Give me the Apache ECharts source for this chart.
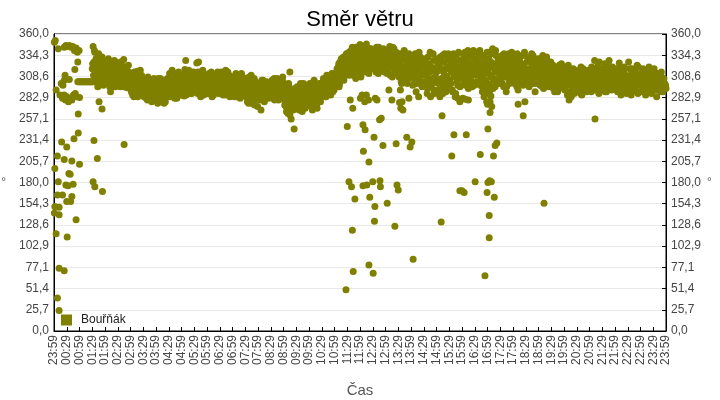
<!DOCTYPE html>
<html><head><meta charset="utf-8">
<script src="https://cdn.jsdelivr.net/npm/echarts@6/dist/echarts.min.js"></script>
<style>html,body{margin:0;padding:0;background:#fff}#c{width:720px;height:400px}</style>
</head><body><div id="c"></div>
<script>
const title = 'Směr větru';
const seriesName = 'Bouřňák';
const xName = 'Čas';
const yName = '°';
// minutes since 23:59 of the previous day; labels every 30 min
const startMinuteOfDay = 1439;

// early scattered readings (minute, direction)
const earlyMin = [1,3,10,24,28,32,36,40,44,48,52,55,59,56,49,26,36,17,21,5,14,24,20,24,27,30,34,38,42,46,50,54,60,57,18,30,47,57,8,24,42,60,2,35,38,10,28,33,45,8,20,42,30,39,2,12,1,12,52,5,31,12,24,8,12];
const earlyDir = [350,352,342,344,346,345,346,344,345,340,343,338,340,326,317,310,305,300,298,292,286,304,282,286,280,284,278,282,280,286,288,284,283,263,229,223,233,240,212,208,206,202,197,191,190,181,177,176,178,165,165,163,157,157,151,150,143,141,135,118,114,76,73,40,25];

// flat stretch of identical readings
const flatMin = [56,58,60,62,64,66,68,70,72,74,76,78,80,82,84,86,88,90,92];
const flatDir = [302,302,302,302,302,302,302,302,302,302,302,302,302,302,302,302,302,302,302];

// main band, even minutes: one row per half hour, readings every 2 minutes
const bandEven = [
 [],[],[],
 [318,345,326,338,305,322,312,334,300,316,328,309,320,298,314],
 [310,325,300,318,330,306,315,298,322,312,304,328,296,316,308],
 [318,302,312,296,324,308,315,329,300,310,320,295,306,314,302],
 [305,290,312,296,284,300,308,292,315,288,298,304,286,310,294],
 [298,284,302,290,306,280,295,300,288,296,278,304,292,286,299],
 [290,300,276,296,284,306,292,280,298,288,302,278,294,286,300],
 [300,312,288,296,316,292,304,282,298,310,290,306,294,302,286],
 [302,294,310,285,317,328,298,306,290,312,296,304,288,300,314],
 [306,296,312,325,288,326,300,310,292,304,316,286,298,308,302],
 [298,310,288,304,296,314,284,302,292,308,300,290,306,296,312],
 [304,292,314,298,286,308,300,316,290,302,296,310,284,306,298],
 [300,288,308,294,312,284,302,296,306,282,298,310,290,304,292],
 [296,284,306,290,276,300,288,310,280,298,286,274,302,292,282],
 [294,286,300,282,298,290,304,280,296,288,302,284,292,298,286],
 [296,288,302,282,306,292,286,300,290,280,298,294,284,304,308],
 [290,280,296,272,286,264,300,276,284,268,292,278,286,270,282],
 [282,296,270,288,276,300,284,266,292,280,298,274,290,286,294],
 [290,300,278,294,268,286,304,282,296,274,292,288,300,280,294],
 [298,286,306,292,302,284,310,296,288,304,294,300,312,290,306],
 [302,312,296,318,306,324,300,316,330,310,322,304,328,314,336],
 [328,318,338,310,332,322,344,314,326,336,306,330,320,340,324],
 [347,330,318,340,326,336,314,344,322,332,338,316,328,342,324],
 [332,320,340,326,314,336,328,344,318,330,322,338,316,334,326],
 [326,340,312,332,318,345,322,336,308,328,342,316,330,320,334],
 [322,308,336,316,300,330,312,340,318,304,326,310,334,320,314],
 [316,330,298,322,306,336,312,300,326,318,304,332,310,296,320],
 [310,326,296,318,288,332,304,314,284,320,300,336,292,308,316],
 [314,330,300,322,286,318,306,334,296,326,310,290,320,304,336],
 [318,332,300,324,290,336,310,284,326,314,298,338,306,320,312],
 [320,306,334,312,298,328,316,340,302,324,310,336,296,318,330],
 [322,310,338,300,328,316,340,306,324,296,332,312,320,304,326],
 [300,318,338,292,326,310,342,304,322,296,334,314,306,328,316],
 [320,306,334,312,296,328,316,290,324,310,336,300,318,330,308],
 [316,330,300,322,308,336,292,318,326,304,314,334,298,320,310],
 [318,304,332,310,296,326,314,336,300,322,308,290,328,316,312],
 [312,326,298,318,306,334,294,316,322,302,328,310,296,320,308],
 [310,298,322,304,290,316,306,300,318,294,312,302,324,296,308],
 [304,292,316,298,286,322,300,310,290,306,296,318,288,302,308],
 [302,314,290,308,296,320,286,304,298,312,292,306,300,316,294],
 [300,312,290,318,296,306,328,294,310,302,322,288,304,316,298],
 [306,318,296,324,302,290,314,308,328,298,312,292,320,304,310],
 [304,296,318,290,310,325,300,286,312,298,306,320,294,308,302],
 [302,326,294,310,286,318,300,306,292,314,298,322,288,304,308],
 [300,312,290,318,296,306,286,314,302,294,320,298,308,288,304],
 [298,318,292,306,284,310,300,296,304,290,308,298,302,294,296]
];

// main band, odd minutes
const bandOdd = [
 [],[],[],
 [324,310,340,302,330,316,296,336,308,320,312,332,304,326,318],
 [302,316,328,308,320,296,312,324,306,318,300,314,326,304,320],
 [308,318,298,326,304,314,296,320,310,300,316,306,322,298,312],
 [296,310,286,302,314,290,304,298,284,308,292,316,300,288,306],
 [290,306,296,282,300,308,286,294,304,284,298,290,306,280,296],
 [284,296,306,290,300,280,294,288,304,276,298,292,284,306,290],
 [294,284,304,300,290,312,286,308,296,282,302,314,288,298,306],
 [296,308,290,302,312,286,304,294,316,300,288,308,298,310,292],
 [300,290,308,298,314,294,306,284,302,312,290,304,296,310,288],
 [304,294,312,290,300,308,296,286,310,298,304,292,314,288,300],
 [296,310,288,302,312,294,306,286,298,314,292,304,300,288,308],
 [294,306,284,300,290,310,296,288,304,292,312,286,300,294,306],
 [288,302,278,296,308,284,294,276,300,290,306,280,296,286,272],
 [288,298,280,292,304,286,296,278,300,290,284,298,282,294,288],
 [290,304,284,296,280,300,292,306,286,298,282,294,300,288,302],
 [284,274,292,266,288,278,296,262,284,274,290,268,280,294,276],
 [276,290,282,268,296,278,288,272,300,284,270,294,280,290,276],
 [284,296,272,290,280,302,276,294,286,270,298,284,292,278,300],
 [292,302,288,298,284,306,294,290,308,296,286,302,298,310,292],
 [308,300,314,304,320,296,326,312,318,306,332,316,324,310,330],
 [320,334,312,326,340,316,330,310,336,322,344,318,332,314,338],
 [338,322,344,330,316,340,326,348,320,334,312,342,330,318,336],
 [326,340,318,332,344,322,312,336,328,340,320,330,342,314,324],
 [320,332,316,338,326,310,334,322,344,318,330,312,338,324,328],
 [330,316,326,302,334,320,308,338,314,328,300,322,336,306,324],
 [308,324,314,334,300,320,328,306,316,338,302,324,312,330,298],
 [320,302,330,310,294,324,314,338,298,316,306,328,288,318,304],
 [306,322,292,316,332,302,326,288,314,336,298,318,308,330,294],
 [304,326,314,292,330,308,320,288,334,302,318,310,296,328,316],
 [314,326,300,338,320,308,330,294,316,334,304,322,312,340,298],
 [316,330,302,322,312,336,298,318,308,334,320,300,330,314,338],
 [312,330,298,320,308,336,294,324,314,340,302,318,330,300,322],
 [312,326,300,320,336,308,322,296,330,316,304,326,312,338,302],
 [322,306,334,312,296,328,318,302,332,310,324,300,316,338,306],
 [306,326,314,298,330,318,304,322,334,310,316,300,324,308,330],
 [318,302,330,312,296,324,306,316,300,332,314,298,322,304,326],
 [302,316,294,310,320,298,312,290,306,322,300,314,296,318,304],
 [296,310,302,320,290,306,314,298,284,312,302,292,316,300,310],
 [310,296,316,300,288,312,304,318,294,302,314,290,310,298,306],
 [306,296,320,302,314,292,310,300,318,296,308,326,302,314,292],
 [298,312,304,290,318,306,296,322,300,316,294,308,314,302,296],
 [310,300,292,314,304,296,318,306,290,302,316,298,310,288,306],
 [296,308,318,300,292,312,304,296,316,300,290,310,320,298,302],
 [306,296,314,300,290,310,304,316,296,306,292,312,300,296,310],
 [304,294,310,298,312,302,292,306,296,314,300,290,306,300,298]
];

// isolated readings away from the band
const outlierMin = [94,102,92,96,106,113,114,133,165,487,555,558,565,687,690,694,697,700,702,703,704,708,720,721,725,731,735,740,727,732,728,741,727,736,743,741,722,750,751,753,755,754,756,760,767,768,766,770,774,784,788,795,802,805,807,810,813,816,819,821,815,830,835,838,842,845,852,858,913,911,908,941,936,960,950,955,962,968,975,970,955,965,991,1003,1014,1019,1008,1012,1016,1018,1021,1026,1024,1024,1021,1025,1029,1034,1036,1038,1042,1020,1022,1026,1028,1030,1092,1104,1108,1153,1212,1273,1440];
const outlierDir = [231,209,181,175,278,269,169,290,226,268,314,257,245,50,248,181,280,175,122,270,72,160,347,282,286,278,286,280,250,244,218,205,176,177,162,80,308,181,70,235,151,133,282,280,182,175,256,258,225,155,292,280,127,227,177,171,277,270,278,268,292,235,282,223,229,87,290,284,261,132,284,238,212,170,282,278,282,281,280,238,170,168,181,214,67,168,290,284,292,278,245,265,140,113,180,182,181,212,162,225,228,275,288,278,285,272,275,261,278,155,280,257,294];

const points = [];
earlyMin.forEach((m, i) => points.push([m, earlyDir[i]]));
flatMin.forEach((m, i) => points.push([m, flatDir[i]]));
bandEven.forEach((row, r) => row.forEach((v, i) => points.push([30 * r + 2 * i, v])));
bandOdd.forEach((row, r) => row.forEach((v, i) => points.push([30 * r + 2 * i + 1, v])));
outlierMin.forEach((m, i) => points.push([m, outlierDir[i]]));

function fmtTime(v) {
  const t = (startMinuteOfDay + Math.round(v)) % 1440;
  const h = Math.floor(t / 60), m = t % 60;
  return String(h).padStart(2, '0') + ':' + String(m).padStart(2, '0');
}
function fmtDeg(v) { return (Math.round(v * 10) / 10).toFixed(1).replace('.', ','); }

const FONT = 'Liberation Sans, Arial, sans-serif';
const yCommon = {
  type: 'value', min: 0, max: 360, interval: 360 / 14,
  axisLine: { show: true, lineStyle: { color: '#000', width: 1 } },
  axisLabel: { formatter: fmtDeg, color: '#444', fontSize: 12, fontFamily: FONT, margin: 5 },
  name: yName, nameLocation: 'middle', nameRotate: 0,
  nameTextStyle: { color: '#555', fontSize: 12, fontFamily: FONT }
};

const chart = echarts.init(document.getElementById('c'), null, { renderer: 'canvas' });
chart.setOption({
  animation: false,
  backgroundColor: '#fff',
  title: { text: title, left: 'center', top: 4,
    textStyle: { color: '#000', fontSize: 22, fontWeight: 'normal', fontFamily: FONT } },
  legend: { data: [{ name: seriesName, icon: 'rect' }], left: 56, top: 309, itemWidth: 11, itemHeight: 11,
    textStyle: { color: '#222', fontSize: 12, fontFamily: FONT, padding: [0, 0, 0, 4] } },
  grid: { left: 54, right: 54, top: 34, bottom: 69, outerBoundsMode: 'none', containLabel: false,
    show: true, borderColor: '#000', borderWidth: 1, backgroundColor: '#fff' },
  xAxis: {
    type: 'value', min: 0, max: 1440, interval: 30,
    name: xName, nameLocation: 'middle', nameGap: 52,
    nameTextStyle: { color: '#555', fontSize: 15, fontFamily: FONT },
    axisLine: { show: true, lineStyle: { color: '#000' } },
    axisTick: { show: true, inside: true, length: 4, lineStyle: { color: '#000' } },
    splitLine: { show: false },
    axisLabel: { rotate: 90, formatter: fmtTime, color: '#444', fontSize: 12, margin: 4,
      fontFamily: FONT, showMinLabel: true, showMaxLabel: true }
  },
  yAxis: [
    Object.assign({}, yCommon, {
      position: 'left', nameGap: 48,
      axisTick: { show: false },
      splitLine: { show: true, lineStyle: { color: '#e8e8e8', width: 1 } }
    }),
    Object.assign({}, yCommon, {
      position: 'right', nameGap: 30,
      axisTick: { show: true, inside: true, length: 4, lineStyle: { color: '#000' } },
      splitLine: { show: false }
    })
  ],
  series: [{
    name: seriesName, type: 'scatter', yAxisIndex: 0, symbol: 'circle', symbolSize: 7,
    itemStyle: { color: '#808000', opacity: 1 },
    emphasis: { disabled: true },
    data: points
  }]
});
</script></body></html>
